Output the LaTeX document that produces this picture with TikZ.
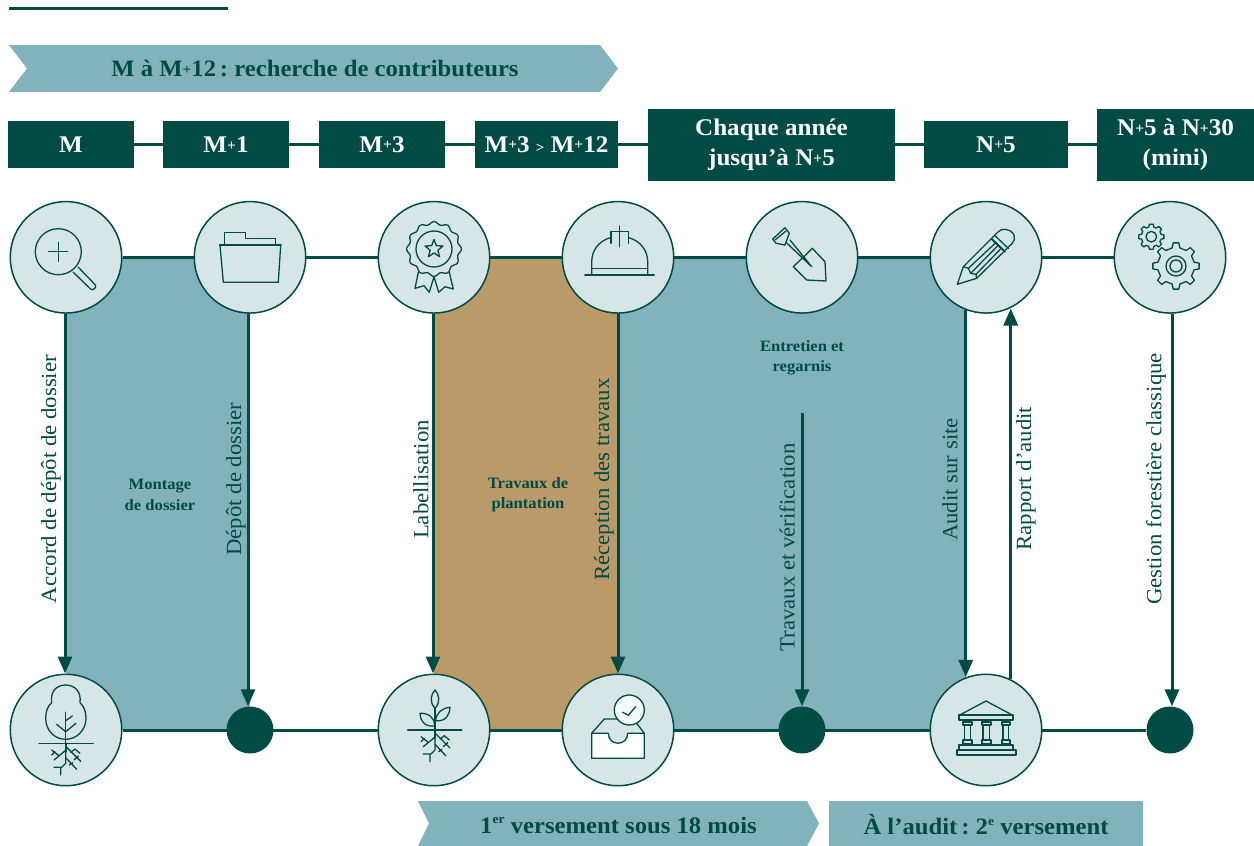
\documentclass[tikz,border=0pt]{standalone}
\usepackage{graphicx}
\usepackage{fontspec}
\setmainfont[FakeStretch=1.05]{Liberation Serif}
\usetikzlibrary{arrows.meta}
\pgfdeclarelayer{bg}
\pgfsetlayers{bg,main}
\definecolor{dark}{HTML}{004B44}
\definecolor{teal}{HTML}{82B3BD}
\definecolor{tan}{HTML}{BA9A69}
\definecolor{lite}{HTML}{D6E6E6}
\newcommand{\pl}{\raisebox{.1em}{\scalebox{.62}{+}}}
\newcommand{\sups}[1]{\raisebox{.42em}{\scalebox{.55}{#1}}}
\newcommand{\fs}[1]{\fontsize{#1}{#1}\selectfont}
\newcommand{\rootsat}[2]{%
\begin{scope}[shift={(#1,#2)}]
\draw[ic,line width=2.2pt] (0,0) -- (0,8);
\draw[ic] (0,7) -- (-11.7,16.7) (-14,6.7) -- (-6.3,12.7) (-14,11.7) -- (-10.7,8.3);
\draw[ic] (0,3) -- (15,18) (5,9) -- (9.3,5.7) -- (14.3,10) (8.3,16.7) -- (12.7,12.7);
\draw[ic] (0,8) -- (0,20) -- (-4,24) -- (-11.7,24) (-5,24) -- (-5,31.7);
\draw[ic] (0,14.3) -- (11,26) (3.7,21.7) -- (7,19.3);
\end{scope}}
\newcommand{\gearat}[6]{% x y router rinner teeth-step halfangle
\begin{scope}[shift={(#1,#2)}]
\draw[ic] (#6:#3)
  \foreach \a in {0,#5,...,359}{ -- (\a+#6:#3) -- (\a+#6+5:#4) -- (\a+#5-#6-5:#4) -- (\a+#5-#6:#3) -- (\a+#5+#6:#3)} -- cycle;
\end{scope}}
\tikzset{
  ic/.style={draw=dark,line width=1.3pt,line join=round,line cap=round},
  hdr/.style={fill=dark,text=white,inner sep=0pt,font=\bfseries\fs{23.9},align=center},
  round1/.style={circle,draw=dark,line width=1.5pt,fill=lite,minimum size=111.5pt,inner sep=0pt},
  dot1/.style={circle,fill=dark,minimum size=47pt,inner sep=0pt},
  conn/.style={draw=dark,line width=3pt},
  arr/.style={draw=dark,line width=3pt,-{Triangle[width=14pt,length=17pt]}},
  vlab/.style={rotate=90,text=dark,font=\fs{21.7},inner sep=0pt},
  blab/.style={text=dark,font=\bfseries\fs{15.8},align=center,inner sep=0pt},
  banner/.style={text=dark,font=\bfseries\fs{23.5},inner sep=0pt}
}
\frenchspacing
\begin{document}
\begin{tikzpicture}[x=1pt,y=-1pt]
\useasboundingbox (0,0) rectangle (1254,846);
% top rule
\coordinate (r1) at (9,8); \coordinate (r2) at (228,8);
\draw[conn] (r1) -- (r2);
% chevrons
\fill[teal] (9,45) -- (600,45) -- (618,68.5) -- (600,92) -- (9,92) -- (27,68.5) -- cycle;
\node[banner] (t1) at (315,69) {M à M\pl12\,: recherche de contributeurs};
\fill[teal] (418,801) -- (807,801) -- (819,823.5) -- (807,846) -- (418,846) -- (429,823.5) -- cycle;
\node[banner] (t2) at (618.5,825) {1\sups{er} versement sous 18 mois};
\fill[teal] (829,801) rectangle (1143,846);
\node[banner] (t3) at (986,825) {À l’audit\,: 2\sups{e} versement};
% header boxes
\node[hdr,minimum width=126pt,minimum height=47pt] (b1) at (71,144.5) {M};
\node[hdr,minimum width=126pt,minimum height=47pt] (b2) at (226,144.5) {M\pl1};
\node[hdr,minimum width=126pt,minimum height=47pt] (b3) at (382,144.5) {M\pl3};
\node[hdr,minimum width=143pt,minimum height=47pt] (b4) at (546.5,144.5) {M\pl3 \scalebox{.6}{>} M\pl12};
\node[hdr,minimum width=247pt,minimum height=72pt] (b5) at (771.5,145) {Chaque année\\[6pt]jusqu’à N\pl5};
\node[hdr,minimum width=144pt,minimum height=47pt] (b6) at (996,144.5) {N\pl5};
\node[hdr,minimum width=157pt,minimum height=72pt] (b7) at (1175.5,145) {N\pl5 à N\pl30\\[6pt](mini)};
% circles
\foreach \n/\x in {1/66,2/250,3/434,4/618,5/802,6/986,7/1170}
  \node[round1] (ct\n) at (\x,257.3) {};
\foreach \n/\x in {1/66,3/434,4/618,6/986}
  \node[round1] (cb\n) at (\x,730) {};
\foreach \n/\x in {2/250,5/802,7/1170}
  \node[dot1] (cb\n) at (\x,730) {};
\begin{pgfonlayer}{bg}
\fill[teal] (66,257) rectangle (250,730);
\fill[tan] (434,257) rectangle (618,730);
\fill[teal] (618,257) rectangle (966,730);
\draw[conn] (b1) -- (b2);
\draw[conn] (b2) -- (b3);
\draw[conn] (b3) -- (b4);
\draw[conn] (b4.east) -- (b4.east -| b5.west);
\draw[conn] (b5.east |- b6.west) -- (b6.west);
\draw[conn] (b6.east) -- (b6.east -| b7.west);
\draw[conn] (ct1) -- (ct7);
\draw[conn] (cb1) -- (cb7);
\end{pgfonlayer}
% connectors
\draw[arr] ([xshift=-1pt]ct1.south) -- ([xshift=-1pt]cb1.north);
\draw[arr] ([xshift=-2pt]ct2.south) -- ([xshift=-2pt]cb2.north);
\draw[arr] ([xshift=-1pt]ct3.south) -- ([xshift=-1pt]cb3.north);
\draw[arr] (ct4.south) -- (cb4.north);
\coordinate (f5) at (802,413);
\draw[arr] (f5) -- (cb5.north -| f5);
\draw[arr] (ct6.249.3) -- (ct6.249.3 |- cb6.110.7);
\draw[arr] (cb6.64.9) -- (cb6.64.9 |- ct6.295.1);
\draw[arr] ([xshift=2pt]ct7.south) -- ([xshift=2pt]cb7.north);
% vertical labels
\node[vlab] (l1) at (51,479) {Accord de dépôt de dossier};
\node[vlab] (l2) at (236,479) {Dépôt de dossier};
\node[vlab] (l3) at (421,479.5) {Labellisation};
\node[vlab] (l4) at (604,479.5) {Réception des travaux};
\node[vlab] (l5) at (787,547.5) {Travaux et vérification};
\node[vlab] (l6) at (950,479.5) {Audit sur site};
\node[vlab] (l7) at (1026,478.5) {Rapport d’audit};
\node[vlab] (l8) at (1156,479) {Gestion forestière classique};
% block labels
\node[blab] (m1) at (160,495) {Montage\\[4.5pt]de dossier};
\node[blab] (m2) at (528,495) {Travaux de\\[4.5pt]plantation};
\node[blab] (m3) at (802,358) {Entretien et\\[4.5pt]regarnis};
% magnifier
\draw[ic] (58.3,251.7) circle (23);
\draw[ic] (48.8,251.7) -- (67.8,251.7) (58.3,242.2) -- (58.3,261.2);
\draw[ic] (73,272) -- (90.5,289) .. controls (93,291.5) and (97.5,287) .. (95,284.5) -- (78,267);
% folder
\draw[ic] (224.3,244.3) -- (224.3,232.3) -- (245.7,232.3) -- (245.7,238.3) -- (275.3,238.3) -- (275.3,244.3);
\draw[ic] (220,245) -- (223.3,282.3) -- (278.3,282.3) -- (280.7,245);
\draw[ic,line width=2.4pt] (220,245) -- (280.7,245);
% rosette
\draw[ic,smooth] plot[domain=0:360,samples=121] ({434+(26+1.4*cos(12*\x))*cos(\x)},{249+(26+1.4*cos(12*\x))*sin(\x)}) -- cycle;
\draw[ic] (434,249) circle (18);
\draw[ic] (434,239.5) -- (436.4,245.7) -- (443,246) -- (437.8,250.2) -- (439.6,256.7) -- (434,253) -- (428.4,256.7) -- (430.2,250.2) -- (425,246) -- (431.6,245.7) -- cycle;
\draw[ic] (418.3,272.3) -- (415,288.3) -- (424,285.7) -- (429.3,292.3) -- (434,276.7) -- (438.7,292.3) -- (445,286.7) -- (453.3,289) -- (449.3,272.3);
% helmet
\draw[ic] (591.7,275) -- (591.7,262) .. controls (591.7,251) and (598,241) .. (611,237.5);
\draw[ic] (647.7,275) -- (647.7,262) .. controls (647.7,251) and (641,241) .. (628.3,237.5);
\draw[ic] (611,243.3) -- (611,231.7) -- (628.3,231.7) -- (628.3,243.3);
\draw[ic] (619.5,226) -- (619.5,246.7);
\draw[ic] (591.7,268.3) -- (647.7,268.3);
\draw[ic,line width=2pt] (585,275) -- (654,275);
% shovel
\draw[ic] (785,227.7) -- (789.3,233.3) -- (785,245) -- (776,243.3) -- (772.7,239) -- cycle;
\draw[ic] (775,240) -- (786,231);
\draw[ic] (786,242.3) -- (811.7,266.7) -- (790,240);
\draw[ic] (804,256.7) -- (812.3,248.3) -- (825,261.7) -- (826,281) -- (806.7,280) -- (793.3,266.7) -- (802.7,257.7);
% pencil
\draw[ic] (963.3,266.7) -- (998.3,231.7) .. controls (1001,228.5) and (1010,227.5) .. (1014,235) .. controls (1015,238) and (1014.5,241) .. (1012.3,243.3) -- (976.7,278.3);
\draw[ic] (963.3,266.7) -- (957.3,284.3) -- (976.7,278.3) -- (976,274.3) -- (970.7,273.3) -- (968.3,268.3) -- cycle;
\draw[ic,line width=2pt] (991.7,239) -- (1005,251.7);
\draw[ic] (995,235.7) -- (1008.3,248.3);
\draw[ic] (968.3,268.3) -- (996,242.5) (970.7,273.3) -- (998.5,245) (976,274.3) -- (1001.5,248);
% gears
\gearat{1151.3}{236.7}{12.7}{10}{45}{9}
\draw[ic] (1151.3,236.7) circle (5.3);
\gearat{1176}{266}{23.3}{18.5}{45}{7}
\draw[ic] (1176,266) circle (10) (1176,266) circle (6);
% tree
\draw[ic] (51.7,702.7) .. controls (50,692) and (56,685) .. (65.7,685) .. controls (75,685) and (81.5,692) .. (80,702.7) .. controls (84,706) and (86,712) .. (86,718) .. controls (86,730) and (77,739.3) .. (65.7,739.3) .. controls (54,739.3) and (45.7,730) .. (45.7,718) .. controls (45.7,712) and (47.5,706) .. (51.7,702.7) -- cycle;
\draw[ic] (65.7,712.3) -- (65.7,743.3) (39,743.3) -- (93.3,743.3);
\draw[ic] (65.7,731.7) -- (56.7,724.3) (65.7,731.7) -- (76,723.3) (65.7,720.7) -- (72.3,716);
\rootsat{65.7}{743.3}
% plant
\draw[ic] (435,708.3) .. controls (429,702) and (431,694) .. (435,690) .. controls (439,694) and (441,702) .. (435,708.3) -- cycle;
\draw[ic] (434.5,726) .. controls (424,727) and (420,720) .. (420,713.3) .. controls (428,713) and (435,717) .. (434.5,726) -- cycle;
\draw[ic] (435.7,720.7) .. controls (436,713) and (442,708) .. (450,707.3) .. controls (450,714) and (446,722) .. (435.7,720.7) -- cycle;
\draw[ic] (435,708.3) -- (435,730) (407.7,730) -- (461.7,730);
\rootsat{435}{730}
% inbox
\draw[ic] (591.7,733.3) -- (604.3,719) -- (620,719) (636.7,723.3) -- (644.3,733.3);
\draw[ic,fill=white] (591.7,733.3) -- (608.3,733.3) .. controls (608.3,746.5) and (627.7,746.5) .. (627.7,733.3) -- (644.3,733.3) -- (644.3,758.3) -- (591.7,758.3) -- cycle;
\draw[ic,fill=white!70!lite] (629.3,710) circle (15);
\draw[ic] (622.7,712.3) -- (628.3,715.3) -- (635.7,706.7);
% bank
\draw[ic] (961,714.3) -- (986,701) -- (1011,714.3);
\draw[ic,line width=1.7pt] (959,715) rectangle (1013.3,720);
\foreach \c/\d in {963.3/971.7,981.7/990.7,1001.7/1010}{
  \draw[ic,line width=1.7pt] (\c,721.7) rectangle (\d,725);
  \draw[ic] (\c+1.2,725) -- (\c+1.2,740) (\d-1.2,725) -- (\d-1.2,740);
  \draw[ic,line width=1.7pt] (\c,740) rectangle (\d,744);
}
\draw[ic,line width=1.7pt] (959,745) rectangle (1013.3,750);
\draw[ic,line width=1.7pt] (956.7,750) rectangle (1016,755);
\end{tikzpicture}
\end{document}
